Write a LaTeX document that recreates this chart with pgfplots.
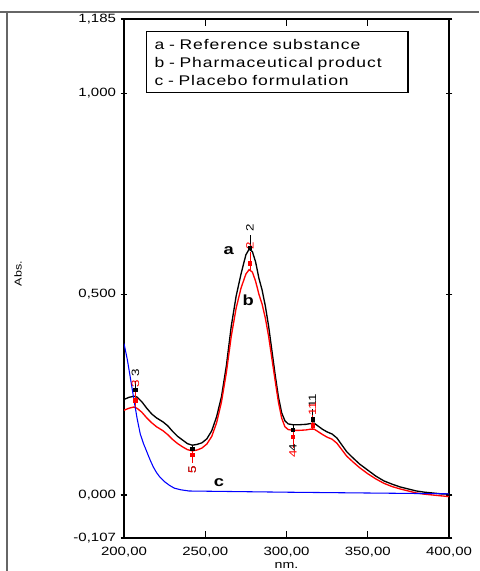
\documentclass[border=0pt]{standalone}
\usepackage{fontspec}
\setmainfont{Liberation Sans}[FakeStretch=1.25]
\newfontfamily\legfont{Liberation Sans}[FakeStretch=1.25, LetterSpace=7]
\usepackage{pgfplots}
\pgfplotsset{compat=1.18}

% curve a: reference substance (black)
\pgfplotstableread{
x y
200 0.238
203 0.243
206 0.246
208 0.244
211 0.232
214 0.216
217 0.202
220 0.192
224 0.182
227 0.172
230 0.158
233 0.146
236 0.137
239 0.128
242 0.124
245 0.126
248 0.130
251 0.140
254 0.160
257 0.195
260 0.245
263 0.322
266 0.420
269 0.495
272 0.550
275 0.598
277 0.612
279 0.606
281 0.580
283 0.540
285 0.510
287 0.470
289 0.420
291 0.360
293 0.300
295 0.245
297 0.205
299 0.185
301 0.177
304 0.175
308 0.175
312 0.176
315 0.178
317 0.179
319 0.173
322 0.164
325 0.157
328 0.152
331 0.142
334 0.125
337 0.108
341 0.092
345 0.077
350 0.062
355 0.047
360 0.035
365 0.027
370 0.020
375 0.015
380 0.010
385 0.007
390 0.005
395 0.003
400 0.002
}\curvea

% curve b: pharmaceutical product (red)
\pgfplotstableread{
x y
200 0.211
203 0.216
206 0.219
208 0.216
211 0.206
214 0.192
217 0.180
220 0.170
224 0.160
227 0.150
230 0.138
233 0.128
236 0.120
239 0.113
242 0.110
245 0.112
248 0.117
251 0.127
254 0.146
257 0.180
260 0.232
263 0.305
266 0.395
269 0.465
272 0.515
275 0.550
277 0.561
279 0.555
281 0.532
283 0.500
285 0.475
287 0.440
289 0.395
291 0.340
293 0.285
295 0.232
297 0.192
299 0.170
301 0.163
304 0.161
308 0.161
312 0.162
315 0.164
317 0.164
319 0.159
322 0.151
325 0.144
328 0.139
331 0.129
334 0.113
337 0.097
341 0.082
345 0.068
350 0.053
355 0.040
360 0.029
365 0.021
370 0.015
375 0.010
380 0.005
385 0.002
390 0.000
395 -0.002
400 -0.004
}\curveb

% curve c: placebo formulation (blue)
\pgfplotstableread{
x y
200 0.377
202 0.338
204 0.290
206 0.240
208 0.192
210 0.152
212 0.128
214 0.108
216 0.088
218 0.070
220 0.056
222 0.045
225 0.033
228 0.024
231 0.017
235 0.013
240 0.010
260 0.009
300 0.007
350 0.005
400 0.003
}\curvec

\begin{document}
\begin{tikzpicture}
\path[use as bounding box] (0,0) rectangle (359.25pt,428.25pt);
\draw[gray!80!black, line width=1.1pt] (0,419.25pt) -- (359.25pt,419.25pt);
\draw[gray!80!black, line width=1.1pt] (5.25pt,0) -- (5.25pt,419.25pt);
\node[rotate=90, font=\fontsize{7.5}{8}\selectfont] at (13.5pt,223pt) {Abs.};
\begin{axis}[
    at={(93pt,24.75pt)}, anchor=south west,
    scale only axis, width=243.75pt, height=389.25pt,
    xmin=200, xmax=400, ymin=-0.107, ymax=1.185,
    axis line style={line width=1.2pt},
    xtick={200,250,300,350,400},
    xticklabels={{200,00},{250,00},{300,00},{350,00},{400,00}},
    ytick={-0.107,0,0.5,1,1.185},
    yticklabels={{-0,107},{0,000},{0,500},{1,000},{1,185}},
    tick label style={font=\fontsize{9}{10}\selectfont},
    xticklabel style={yshift=-3pt},
    major tick length=5pt,
    tick style={black, line width=0.8pt},
    ytick align=center,
    xlabel={nm.},
    xlabel style={font=\fontsize{8.5}{9}\selectfont, inner sep=0pt, yshift=-1pt},
]
\addplot[black, line width=1pt] table {\curvea};
\addplot[red, line width=1pt] table {\curveb};
\addplot[blue, line width=0.8pt] table {\curvec};

% peak pick markers, curve a
\addplot[black, line width=0.6pt] coordinates {(207,0.245) (207,0.285)};
\addplot[black, line width=0.6pt] coordinates {(277.5,0.612) (277.5,0.648)};
\addplot[black, line width=0.6pt] coordinates {(242,0.124) (242,0.085)};
\addplot[black, line width=0.6pt] coordinates {(304,0.175) (304,0.135)};
\addplot[black, line width=0.6pt] coordinates {(316,0.178) (316,0.215)};
\addplot[black, only marks, mark=square*, mark size=1.3pt]
    coordinates {(207,0.262) (277.5,0.615) (242,0.115) (304,0.162) (316,0.188)};
% peak pick markers, curve b
\addplot[red, line width=0.6pt] coordinates {(207,0.219) (207,0.262)};
\addplot[red, line width=0.6pt] coordinates {(277.5,0.561) (277.5,0.605)};
\addplot[red, line width=0.6pt] coordinates {(242,0.110) (242,0.080)};
\addplot[red, line width=0.6pt] coordinates {(304,0.161) (304,0.118)};
\addplot[red, line width=0.6pt] coordinates {(316,0.164) (316,0.198)};
\addplot[red, only marks, mark=square*, mark size=1.3pt]
    coordinates {(207,0.236) (277.5,0.577) (242,0.100) (304,0.145) (316,0.174)};

\node[rotate=90, font=\fontsize{8}{8}\selectfont, black] at (axis cs:207,0.305) {3};
\node[rotate=90, font=\fontsize{8}{8}\selectfont, red] at (axis cs:207,0.277) {3};
\node[rotate=90, font=\fontsize{8}{8}\selectfont, black] at (axis cs:277.5,0.664) {2};
\node[rotate=90, font=\fontsize{8}{8}\selectfont, red] at (axis cs:277.5,0.620) {2};
\node[rotate=90, font=\fontsize{8}{8}\selectfont, black] at (axis cs:242,0.064) {5};
\node[rotate=90, font=\fontsize{8}{8}\selectfont, red] at (axis cs:242,0.062) {5};
\node[rotate=90, font=\fontsize{8}{8}\selectfont, black] at (axis cs:304,0.118) {4};
\node[rotate=90, font=\fontsize{8}{8}\selectfont, red] at (axis cs:304,0.102) {4};
\node[rotate=90, font=\fontsize{8}{8}\selectfont, black] at (axis cs:316,0.234) {11};
\node[rotate=90, font=\fontsize{8}{8}\selectfont, red] at (axis cs:316,0.214) {11};

\node[font=\bfseries\fontsize{11}{12}\selectfont] at (axis cs:264.5,0.608) {a};
\node[font=\bfseries\fontsize{11}{12}\selectfont] at (axis cs:276.5,0.485) {b};
\node[font=\bfseries\fontsize{11}{12}\selectfont] at (axis cs:258.5,0.031) {c};

\node[draw, line width=1pt, anchor=north west, align=left,
      minimum width=195.75pt, minimum height=45.75pt, text width=184pt,
      inner xsep=6pt, inner ysep=3pt,
      font=\legfont\fontsize{10.5}{13.5}\selectfont]
    at (rel axis cs:0.0677,0.977)
    {a - Reference substance\\ b - Pharmaceutical product\\ c - Placebo formulation};
\end{axis}
\end{tikzpicture}
\end{document}
